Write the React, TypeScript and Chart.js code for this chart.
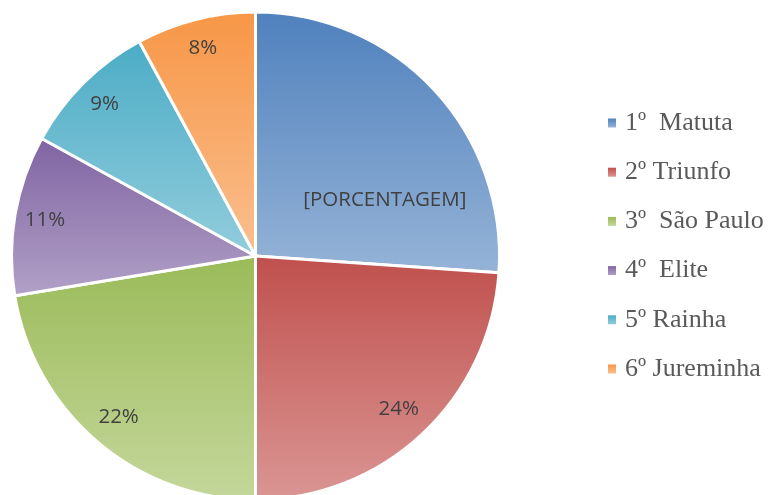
import React, { useEffect, useRef } from "react";
import { Chart, registerables } from "chart.js";

Chart.register(...registerables);

const categories = ["1º  Matuta", "2º Triunfo", "3º  São Paulo", "4º  Elite", "5º Rainha", "6º Jureminha"];
const values = [26.1, 23.9, 22.4, 10.6, 9.1, 7.9];
const firstLabelText = "[PORCENTAGEM]";
const topColors = ["#4F81BD", "#C0504D", "#9BBB59", "#8064A2", "#4BACC6", "#F79646"];
const bottomColors = ["#95B3D7", "#DA9694", "#C4D79B", "#B1A0C7", "#92CDDC", "#FABF8F"];

// label placement (fraction of slice span, fraction of radius)
const labelAngleFrac = [0.708, 0.5, 0.5, 0.5, 0.5, 0.5];
const labelRadiusFrac = [0.578, 0.86, 0.867, 0.875, 0.877, 0.878];

function sliceGradient(ctx: any) {
  const chart = ctx.chart;
  const area = chart.chartArea;
  const i = ctx.dataIndex;
  if (!area || i === undefined) return topColors[i ?? 0];
  const data: number[] = ctx.dataset.data;
  const total = data.reduce((a, b) => a + b, 0);
  let cum = 0;
  for (let k = 0; k < i; k++) cum += data[k];
  const start = -Math.PI / 2 + (cum / total) * Math.PI * 2;
  const end = start + (data[i] / total) * Math.PI * 2;
  const cy = (area.top + area.bottom) / 2;
  const r = Math.min(area.right - area.left, area.bottom - area.top) / 2;
  let minY = cy, maxY = cy;
  for (let s = 0; s <= 90; s++) {
    const t = start + ((end - start) * s) / 90;
    const y = cy + r * Math.sin(t);
    minY = Math.min(minY, y);
    maxY = Math.max(maxY, y);
  }
  const g = chart.ctx.createLinearGradient(0, minY, 0, maxY);
  g.addColorStop(0, topColors[i]);
  g.addColorStop(1, bottomColors[i]);
  return g;
}

const labelsPlugin = {
  id: "sliceLabels",
  afterDatasetsDraw(chart: any) {
    const meta = chart.getDatasetMeta(0);
    const ctx = chart.ctx;
    const data: number[] = chart.data.datasets[0].data;
    const total = data.reduce((a: number, b: number) => a + b, 0);
    ctx.save();
    ctx.font = '20.5px "Open Sans"';
    ctx.fillStyle = "#404040";
    ctx.textAlign = "center";
    ctx.textBaseline = "middle";
    meta.data.forEach((arc: any, i: number) => {
      const p = arc.getProps(["x", "y", "startAngle", "endAngle", "outerRadius"], true);
      const a = p.startAngle + (p.endAngle - p.startAngle) * labelAngleFrac[i];
      const rr = p.outerRadius * labelRadiusFrac[i];
      const x = p.x + Math.cos(a) * rr;
      const y = p.y + Math.sin(a) * rr;
      const txt = i === 0 ? firstLabelText : Math.round((data[i] / total) * 100) + "%";
      ctx.fillText(txt, x, y);
    });
    ctx.restore();
  },
};

const legendPlugin = {
  id: "sideLegend",
  afterDraw(chart: any) {
    const ctx = chart.ctx;
    const labels: string[] = chart.data.labels;
    const x0 = 608;
    const y0 = 123;
    const step = 49.2;
    ctx.save();
    ctx.font = '26px "Liberation Serif"';
    ctx.textBaseline = "middle";
    ctx.textAlign = "left";
    labels.forEach((lab, i) => {
      const cyy = y0 + i * step;
      const g = ctx.createLinearGradient(0, cyy - 4.5, 0, cyy + 4.5);
      g.addColorStop(0, topColors[i]);
      g.addColorStop(1, bottomColors[i]);
      ctx.fillStyle = g;
      ctx.fillRect(x0, cyy - 4.5, 8, 9);
      ctx.fillStyle = "#595959";
      ctx.fillText(lab, x0 + 17, cyy);
    });
    ctx.restore();
  },
};

export default function App() {
  const ref = useRef<HTMLCanvasElement | null>(null);
  useEffect(() => {
    if (!ref.current) return;
    const chart = new Chart(ref.current, {
      type: "pie",
      data: {
        labels: categories,
        datasets: [
          {
            data: values,
            backgroundColor: sliceGradient as any,
            borderColor: "#ffffff",
            borderWidth: 3,
            hoverOffset: 0,
          },
        ],
      },
      options: {
        responsive: false,
        animation: false,
        layout: { padding: { left: 10, top: 10.5, right: 268, bottom: 10.5 } },
        plugins: { legend: { display: false }, tooltip: { enabled: false } },
      },
      plugins: [labelsPlugin, legendPlugin],
    });
    return () => chart.destroy();
  }, []);
  return (
    <div style={{ position: "absolute", left: 0, top: 0, width: 769, height: 512, overflow: "hidden", background: "#fff" }}>
      <canvas ref={ref} width={769} height={512} style={{ display: "block" }} />
    </div>
  );
}
